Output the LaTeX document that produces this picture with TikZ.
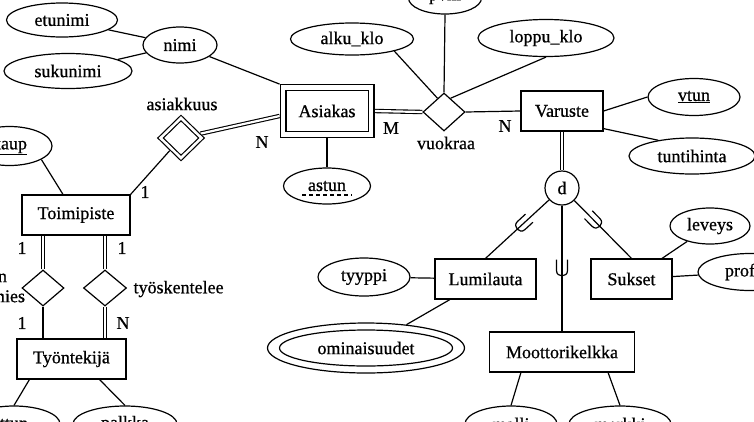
\documentclass[tikz,border=0pt]{standalone}
\usepackage{fontspec}
\setmainfont{Liberation Serif}[FakeBold=0.7]
\usetikzlibrary{shapes.geometric,calc,decorations.markings}
\pgfdeclarelayer{bg}
\pgfsetlayers{bg,main}
\begin{document}
\begin{tikzpicture}[x=1pt,y=-1pt, line width=1.2pt,
  font=\fontsize{18}{20}\selectfont,
  ent/.style={draw, rectangle, minimum height=40pt, inner sep=0pt},
  attr/.style={draw, ellipse, inner sep=0pt},
  rel/.style={draw, diamond, inner sep=0pt},
  dbl/.style={double, double distance=2.2pt, line width=1.1pt},
  lbl/.style={inner sep=0pt},
  subset/.style={postaction={decorate}, decoration={markings,
     mark=at position #1 with {\draw[line width=1.2pt] (-11pt,-5.5pt) -- (0pt,-5.5pt) .. controls (7pt,-5.5pt) and (7pt,5.5pt) .. (0pt,5.5pt) -- (-11pt,5.5pt);}}}]
\useasboundingbox (0,0) rectangle (754,421);
\clip (0,0) rectangle (754,421);

% top-left attributes
\node[attr, minimum width=111pt, minimum height=34pt] (etu) at (62,20) {etunimi};
\node[attr, minimum width=74pt, minimum height=36pt] (nimi) at (180,45) {nimi};
\node[attr, minimum width=128pt, minimum height=35pt] (suku) at (68,71) {sukunimi};

% Asiakas
\node[ent, double, double distance=4.6pt, outer sep=3.4pt, minimum width=88pt, minimum height=47pt] (asiakas) at (327,111) {Asiakas};
\node[attr, minimum width=87pt, minimum height=36pt] (astun) at (327,186) {astun};
\node[rel, double, double distance=2.6pt, outer sep=2.5pt, minimum width=43pt, minimum height=42pt] (asiak) at (181,138) {};
\node[lbl] at (182,104) {asiakkuus};

% vuokraa
\node[rel, minimum width=42pt, minimum height=38pt] (vuok) at (444,112) {};
\node[lbl] at (446,143) {vuokraa};
\node[attr, minimum width=73pt, minimum height=32pt] (pvm) at (445,-2) {pvm};
\node[attr, minimum width=123pt, minimum height=32pt] (alku) at (352,39) {alku\_klo};
\node[attr, minimum width=136pt, minimum height=37pt] (loppu) at (546,38) {loppu\_klo};

% Varuste
\node[ent, minimum width=82pt] (var) at (562,111) {Varuste};
\node[attr, minimum width=92pt, minimum height=37pt] (vtun) at (694,97) {\underline{vtun}};
\node[attr, minimum width=126pt, minimum height=36pt] (tunti) at (692,156) {tuntihinta};
\node[draw, circle, minimum size=34pt, inner sep=0pt] (d) at (562,188) {d};

% subclasses
\node[ent, minimum width=101pt] (lum) at (485.5,279) {Lumilauta};
\node[ent, minimum width=81pt] (suk) at (631.5,279) {Sukset};
\node[ent, minimum width=145pt] (moot) at (562,352) {Moottorikelkka};
\node[attr, minimum width=80pt, minimum height=36pt] (lev) at (710,226) {leveys};
\node[attr, minimum width=104pt, minimum height=37pt] (prof) at (750,272) {profiili};
\node[attr, minimum width=92pt, minimum height=38pt] (tyyppi) at (364,277) {tyyppi};
\node[attr, minimum width=197pt, minimum height=50pt] (omin) at (366,348) {ominaisuudet};
\draw (omin.center) ellipse [x radius=86.5pt, y radius=18pt];
\node[attr, minimum width=92pt, minimum height=36pt] (malli) at (511,424) {malli};
\node[attr, minimum width=102pt, minimum height=36pt] (merkki) at (620,424) {merkki};

% left part
\node[attr, minimum width=85pt, minimum height=39pt] (aup) at (9.5,146) {\underline{kaup}};
\node[ent, minimum width=108pt] (toim) at (76,215) {Toimipiste};
\node[rel, minimum width=42pt, minimum height=36pt] (esim) at (43,288) {};
\node[rel, minimum width=43pt, minimum height=36pt] (tyos) at (105,288) {};
\node[lbl, align=center] at (-2,288) {on\\esimies};
\node[lbl, anchor=west] at (133,289) {työskentelee};
\node[ent, minimum width=109pt] (tyon) at (71.5,359) {Työntekijä};
\node[attr, minimum width=92pt, minimum height=36pt] (ttun) at (14,424) {ttun};
\node[attr, minimum width=104pt, minimum height=36pt] (palk) at (125,424) {palkka};

% cardinalities
\node[lbl] at (262,142) {N};
\node[lbl] at (145,192) {1};
\node[lbl] at (391,128) {M};
\node[lbl] at (505,126) {N};
\node[lbl] at (22,248) {1};
\node[lbl] at (122,248) {1};
\node[lbl] at (22,323) {1};
\node[lbl] at (123,323) {N};

\begin{pgfonlayer}{bg}
\fill[white] (0,0) rectangle (754,421);
\begin{scope}[line width=1.2pt]
\draw (etu) -- (nimi);
\draw (suku) -- (nimi);
\draw (nimi) -- (asiakas.north west);
\draw[dbl] (asiak) -- ($(asiakas.west)+(0,5)$);
\draw (asiak) -- (toim.north east);
\draw (asiakas) -- (astun);
\draw[dbl] (asiakas.east) -- (vuok.west);
\draw (pvm.south) -- (vuok.north);
\draw (alku.-16) -- ($(vuok.north)!0.3!(vuok.west)$);
\draw (loppu.south) -- ($(vuok.north)!0.3!(vuok.east)$);
\draw (vuok.east) -- (var.west);
\draw (var.east) -- (vtun.west);
\draw ($(var.south east)+(0,-3)$) -- (tunti.155);
\draw[dbl] (var.south) -- (d.north);
\draw[subset=38pt] (d) -- (lum.north);
\draw[subset=31pt] (d) -- (suk.north);
\draw[subset=65pt] (d.south) -- (moot.north);
\draw (tyyppi) -- (lum);
\draw (lum) -- (omin);
\draw (suk) -- (lev);
\draw (suk) -- (prof);
\draw ($(moot.south west)+(32,0)$) -- (malli.north);
\draw ($(moot.south east)+(-27,0)$) -- (merkki.north);
\draw (aup.-23) -- ($(toim.north)+(-13,0)$);
\draw[dbl] (esim.north) -- (esim.north |- toim.south);
\draw (esim.south) -- (esim.south |- tyon.north);
\draw[dbl] (tyos.north) -- (tyos.north |- toim.south);
\draw[dbl] (tyos.south) -- (tyos.south |- tyon.north);
\draw ($(tyon.south west)+(13,0)$) -- (ttun.north);
\draw ($(tyon.south east)+(-27,0)$) -- (palk.north);
\draw[dashed, dash pattern=on 4pt off 3pt] ($(astun.center)+(-25,9)$) -- ++(50,0);
\end{scope}
\end{pgfonlayer}
\end{tikzpicture}
\end{document}
